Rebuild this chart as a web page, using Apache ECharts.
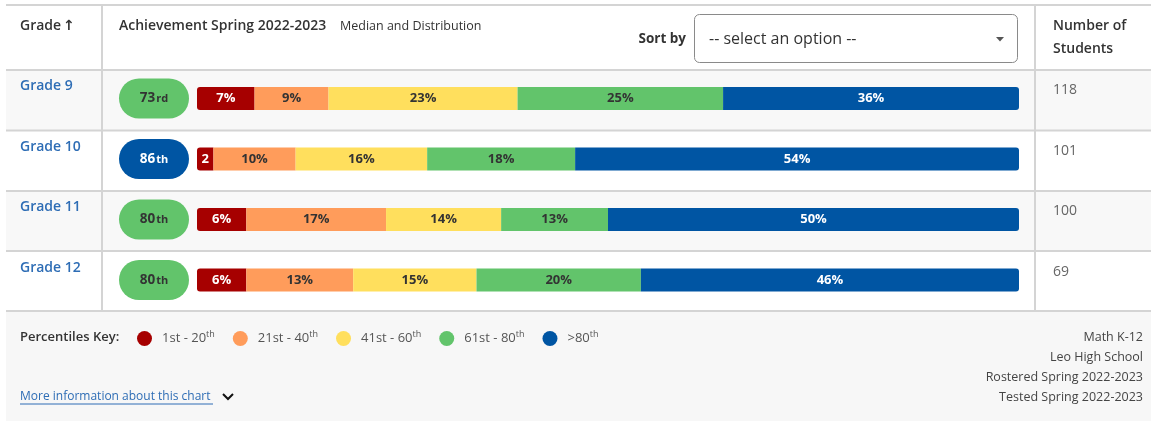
<!DOCTYPE html>
<html><head><meta charset="utf-8">
<script src="https://cdn.jsdelivr.net/npm/echarts@6/dist/echarts.min.js"></script>
<style>html,body{margin:0;padding:0;background:#fff;}#c{width:1151px;height:421px;}</style>
</head><body><div id="c"></div>
<script>
// ---- data ----
const grades = ['Grade 9', 'Grade 10', 'Grade 11', 'Grade 12'];
const medians = [73, 86, 80, 80];
const students = [118, 101, 100, 69];
const bandNames = ['1st - 20th', '21st - 40th', '41st - 60th', '61st - 80th', '>80th'];
const bandUpper = [20, 40, 60, 80, 100];
const band1 = [7, 2, 6, 6];
const band2 = [9, 10, 17, 13];
const band3 = [23, 16, 14, 15];
const band4 = [25, 18, 13, 20];
const band5 = [36, 54, 50, 46];
const footerInfo = ['Math K-12', 'Leo High School', 'Rostered Spring 2022-2023', 'Tested Spring 2022-2023'];

// ---- style ----
const FONT = '"Open Sans", "DejaVu Sans", sans-serif';
const bandColors = ['#a60000', '#ff9c5b', '#ffdf5d', '#62c46b', '#0055a3'];
const bandText = ['#ffffff', '#333333', '#333333', '#333333', '#ffffff'];
const bands = [band1, band2, band3, band4, band5];
const LINK = '#2e6db5';
const LINE = '#d4d4d4';

function ordinal(n) {
  const s = n % 100;
  if (s >= 11 && s <= 13) return 'th';
  return ({1: 'st', 2: 'nd', 3: 'rd'})[n % 10] || 'th';
}

const chart = echarts.init(document.getElementById('c'), null, {renderer: 'canvas'});

const barSeries = bands.map((vals, k) => ({
  type: 'bar',
  name: bandNames[k],
  stack: 'dist',
  barWidth: 23,
  data: vals,
  itemStyle: {
    color: bandColors[k],
    borderRadius: k === 0 ? [3, 0, 0, 3] : (k === bands.length - 1 ? [0, 3, 3, 0] : 0)
  },
  label: {
    show: true,
    position: 'inside',
    color: bandText[k],
    fontFamily: FONT,
    fontWeight: 'bold',
    fontSize: 13,
    formatter: p => (p.value < 4 ? String(p.value) : p.value + '%')
  },
  emphasis: {disabled: true},
  z: 3
}));

const rowSeries = {
  type: 'custom',
  name: 'rows',
  clip: false,
  z: 4,
  silent: true,
  data: grades.map((g, i) => [0, i]),
  renderItem: function (params, api) {
    const i = params.dataIndex;
    const y = api.coord([0, api.value(1)])[1];
    const m = medians[i];
    const bi = bandUpper.findIndex(u => m <= u);
    const tc = bandText[bi];
    return {
      type: 'group',
      children: [
        {type: 'rect', shape: {x: 119, y: y - 20, width: 70, height: 40, r: 20}, style: {fill: bandColors[bi]}},
        {type: 'text', style: {
          x: 154, y: y, align: 'center', verticalAlign: 'middle',
          text: '{n|' + m + '}{s|' + ordinal(m) + '}',
          rich: {
            n: {fontFamily: FONT, fontWeight: 'bold', fontSize: 13.5, fill: tc, color: tc},
            s: {fontFamily: FONT, fontWeight: 'bold', fontSize: 11, fill: tc, color: tc, padding: [1, 0, 0, 1]}
          }
        }},
        {type: 'text', style: {x: 20, y: y - 12, verticalAlign: 'middle', text: grades[i],
          fontFamily: FONT, fontWeight: 600, fontSize: 14, fill: LINK}},
        {type: 'text', style: {x: 1053, y: y - 8, verticalAlign: 'middle', text: String(students[i]),
          fontFamily: FONT, fontSize: 14, fill: '#666'}}
      ]
    };
  }
};

// ---- table chrome ----
const rowBounds = [70, 130.5, 191, 251, 311];
const graphics = [];
graphics.push({type: 'rect', z: -10, shape: {x: 6, y: 5, width: 1145, height: 306}, style: {fill: '#ffffff'}});
[0, 2].forEach(r => graphics.push({type: 'rect', z: -9, shape: {x: 6, y: rowBounds[r], width: 1145, height: rowBounds[r + 1] - rowBounds[r]}, style: {fill: '#f8f8f8'}}));
graphics.push({type: 'rect', z: -9, shape: {x: 6, y: 311, width: 1145, height: 110}, style: {fill: '#f7f7f7'}});
[5].concat(rowBounds).forEach(y => graphics.push({type: 'line', z: -5, shape: {x1: 6, y1: y, x2: 1151, y2: y}, style: {stroke: LINE, lineWidth: 2}}));
[102, 1035].forEach(x => graphics.push({type: 'line', z: -5, shape: {x1: x, y1: 5, x2: x, y2: 311}, style: {stroke: LINE, lineWidth: 2}}));

function txt(x, y, text, o) {
  return Object.assign({type: 'text', z: 5, style: Object.assign({x: x, y: y, text: text, verticalAlign: 'middle',
    fontFamily: FONT, fontSize: 14, fill: '#333'}, o || {})});
}
graphics.push(txt(20, 26, 'Grade', {fontWeight: 600}));
graphics.push(txt(63, 26, '\u2191', {fontWeight: 'bold', fontFamily: '"DejaVu Sans", sans-serif', fontSize: 14}));
graphics.push(txt(119, 26, 'Achievement Spring 2022-2023', {fontWeight: 600}));
graphics.push(txt(340, 26, 'Median and Distribution', {fontSize: 12.5}));
graphics.push(txt(686, 39, 'Sort by', {fontWeight: 'bold', align: 'right', fontSize: 13.5}));
graphics.push({type: 'rect', z: 5, shape: {x: 694.5, y: 14.5, width: 323, height: 48, r: 5}, style: {fill: '#fff', stroke: '#8a8a8a', lineWidth: 1}});
graphics.push(txt(709, 39, '-- select an option --', {fontSize: 16}));
graphics.push({type: 'polygon', z: 6, shape: {points: [[996, 37], [1004, 37], [1000, 41.5]]}, style: {fill: '#555'}});
graphics.push(txt(1053, 26, 'Number of', {fontWeight: 600}));
graphics.push(txt(1053, 49, 'Students', {fontWeight: 600}));
graphics.push(txt(20, 337, 'Percentiles Key:', {fontWeight: 600, fontSize: 13}));
graphics.push(txt(20, 397, 'More information about this chart', {fontSize: 12, fill: LINK}));
graphics.push({type: 'line', z: 5, shape: {x1: 20, y1: 404, x2: 213, y2: 404}, style: {stroke: LINK, lineWidth: 1}});
graphics.push({type: 'polyline', z: 5, shape: {points: [[223, 394], [228, 399], [233, 394]]}, style: {stroke: '#111', lineWidth: 2, fill: null}});
footerInfo.forEach((t, i) => graphics.push(txt(1143, 337 + 20 * i, t, {fontSize: 12.5, fill: '#444', align: 'right'})));

chart.setOption({
  animation: false,
  backgroundColor: '#ffffff',
  grid: {left: 197, width: 822, top: 68.25, height: 242},
  xAxis: {type: 'value', min: 0, max: 100, show: false},
  yAxis: {type: 'category', data: grades, inverse: true, show: false},
  legend: {
    data: bandNames,
    left: 132, top: 325,
    icon: 'circle',
    itemWidth: 15, itemHeight: 15,
    itemGap: 18,
    selectedMode: false,
    formatter: name => '{m|' + name.slice(0, -2) + '}{s|th}',
    textStyle: {
      padding: [0, 0, 0, 5],
      rich: {
        m: {fontFamily: FONT, fontSize: 13, color: '#555'},
        s: {fontFamily: FONT, fontSize: 9, color: '#555', padding: [0, 0, 8, 0]}
      }
    }
  },
  graphic: {elements: graphics},
  series: barSeries.concat([rowSeries])
});
</script>
</body></html>
